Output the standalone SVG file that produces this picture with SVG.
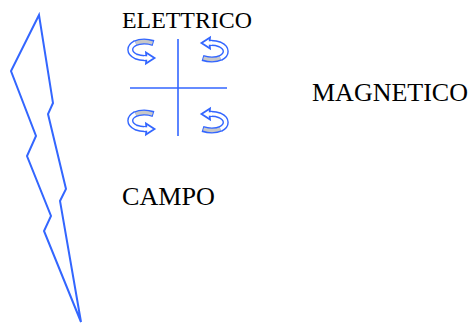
<svg xmlns="http://www.w3.org/2000/svg" width="471" height="323" viewBox="0 0 471 323">
  <style>
    .bolt { fill: none; stroke: #3366ff; stroke-width: 2; stroke-linejoin: miter; }
    .axis { stroke: #3366ff; stroke-width: 1.6; }
    .label { font-family: "Liberation Serif", "Times New Roman", serif; fill: #000; }
    .edge { fill: none; stroke: #3366ff; stroke-width: 6.2; stroke-linecap: butt; }
    .back { fill: none; stroke: #c8c8c8; stroke-width: 3.4; }
    .front { fill: none; stroke: #ffffff; stroke-width: 3.4; }
    .head { fill: #ffffff; stroke: #3366ff; stroke-width: 1.8; stroke-linejoin: miter; }
  </style>
  <defs>
    <!-- curved rotation arrow: back of the ribbon (grey) on top, arrowhead pointing right -->
    <g id="spin">
      <path class="edge" d="M25.5,5 Q15,1.8 6.5,5.5"/>
      <path class="back" d="M24.5,5 Q15,1.8 6.5,5.5"/>
      <path class="edge" d="M7.5,5 C0.5,8.5 0.5,15 8,18.5 Q13,20.5 19,20"/>
      <path class="front" d="M7.5,5 C0.5,8.5 0.5,15 8,18.5 Q13,20.5 19.5,20"/>
      <polygon class="head" points="18,14.5 26.5,20 18,25.5 18.5,20"/>
      <path d="M16,20 L20,20" stroke="#ffffff" stroke-width="3.4"/>
    </g>
  </defs>

  <g id="lightning">
    <polygon class="bolt" points="39,15 11,71 36,136 27,156 51,216 44,231 81,322 60,201 66,189 48,114 53,103"/>
  </g>

  <g id="axes">
    <line class="axis" x1="178" y1="39" x2="178" y2="136"/>
    <line class="axis" x1="130" y1="88" x2="227" y2="88"/>
  </g>

  <g id="rotations">
    <use href="#spin" transform="translate(128,38)"/>
    <use href="#spin" transform="translate(228,63) rotate(180)"/>
    <use href="#spin" transform="translate(128,109)"/>
    <use href="#spin" transform="translate(228,134) rotate(180)"/>
  </g>

  <g id="labels">
    <text class="label" x="122" y="28" font-size="24" textLength="130" lengthAdjust="spacingAndGlyphs">ELETTRICO</text>
    <text class="label" x="312" y="101" font-size="25.5" textLength="156" lengthAdjust="spacingAndGlyphs">MAGNETICO</text>
    <text class="label" x="122" y="204.5" font-size="26" textLength="93" lengthAdjust="spacingAndGlyphs">CAMPO</text>
  </g>
</svg>
